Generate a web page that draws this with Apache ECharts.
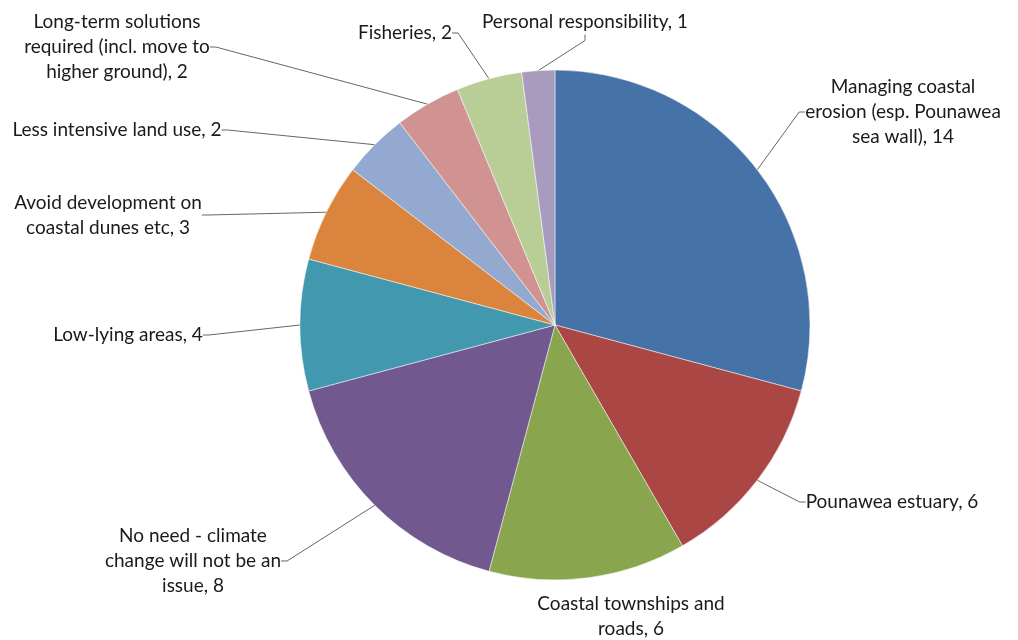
<!DOCTYPE html>
<html>
<head>
<meta charset="utf-8">
<script src="https://cdn.jsdelivr.net/npm/echarts@6/dist/echarts.min.js"></script>
<style>html,body{margin:0;padding:0;background:#fff;}#c{width:1018px;height:640px;}</style>
</head>
<body>
<div id="c"></div>
<script>
var categories = [
  'Managing coastal\nerosion (esp. Pounawea\nsea wall)',
  'Pounawea estuary',
  'Coastal townships and\nroads',
  'No need - climate\nchange will not be an\nissue',
  'Low-lying areas',
  'Avoid development on\ncoastal dunes etc',
  'Less intensive land use',
  'Long-term solutions\nrequired (incl. move to\nhigher ground)',
  'Fisheries',
  'Personal responsibility'
];
var values = [14, 6, 6, 8, 4, 3, 2, 2, 2, 1];
var colors = ['#4572A7', '#AA4643', '#89A54E', '#71588F', '#4198AF', '#DB843D', '#93A9CF', '#D19392', '#B9CD96', '#A99BBD'];
// label anchor (text block centre) positions
var labelPos = [
  [903, 112], [892, 502], [631, 616], [193, 561], [128, 335],
  [108, 215], [117, 130], [117, 47], [405, 33], [585, 22]
];
var hideLine = [false, false, true, false, false, false, false, false, false, false];

var chart = echarts.init(document.getElementById('c'), null, {renderer: 'canvas'});
chart.setOption({
  animation: false,
  backgroundColor: '#fff',
  color: colors,
  series: [{
    type: 'pie',
    center: [555, 325],
    radius: 255,
    startAngle: 90,
    clockwise: true,
    avoidLabelOverlap: false,
    itemStyle: {borderColor: '#fff', borderWidth: 0.5},
    label: {
      formatter: '{b}, {c}',
      fontFamily: 'Lato',
      fontSize: 19,
      lineHeight: 25,
      color: '#1a1a1a',
      align: 'center'
    },
    labelLine: {
      show: true,
      length: 10,
      length2: 6,
      lineStyle: {color: '#666', width: 1}
    },
    labelLayout: function (params) {
      var p = labelPos[params.dataIndex];
      return {x: p[0], y: p[1], align: 'center', verticalAlign: 'middle'};
    },
    data: categories.map(function (c, i) {
      var d = {name: c, value: values[i]};
      if (hideLine[i]) d.labelLine = {show: false};
      return d;
    })
  }]
});
</script>
</body>
</html>
